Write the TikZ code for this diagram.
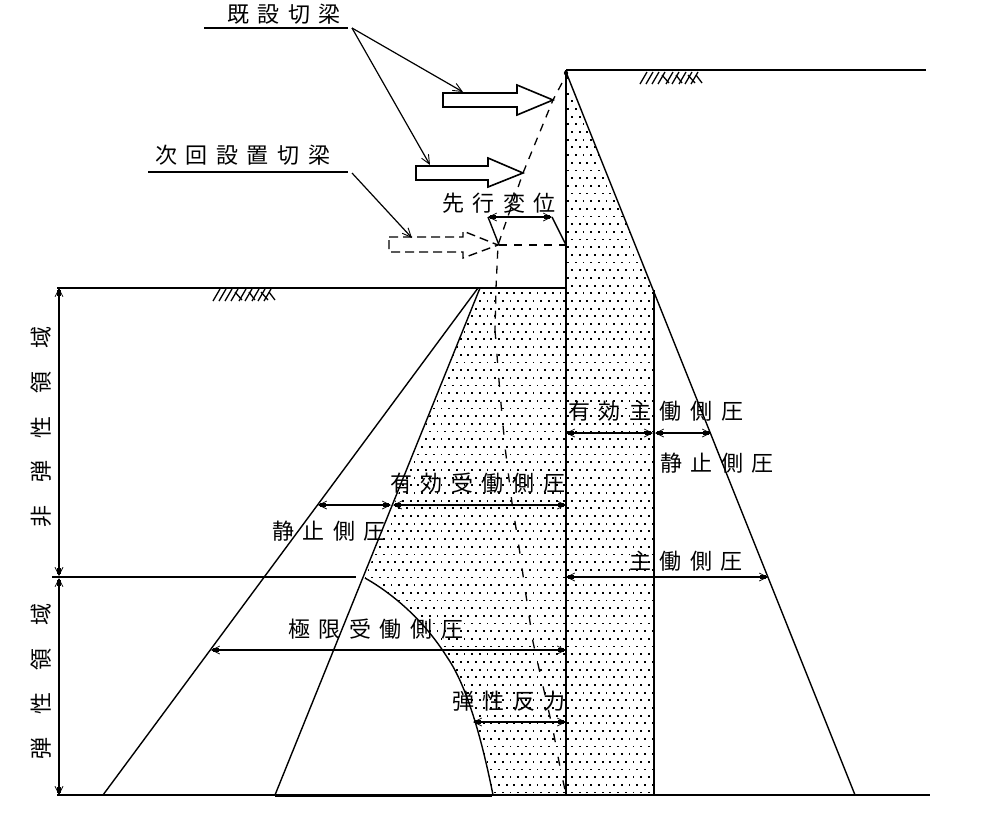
\documentclass[tikz,border=0pt]{standalone}
\usepackage{fontspec}
\usetikzlibrary{arrows.meta,calc}
\newfontfamily\jph[LetterSpace=39]{Noto Sans CJK JP}
\newfontfamily\jpv[LetterSpace=104]{Noto Sans CJK JP}
\tikzset{
  main/.style={line width=1.6pt,black},
  thin line/.style={line width=1.4pt,black},
  dim/.style={line width=1.3pt,
    arrows={Straight Barb[length=8pt,width=8pt,line width=.7pt]-Straight Barb[length=8pt,width=8pt,line width=.7pt]},
    postaction={draw,shorten >=2pt,shorten <=2pt,arrows={Rectangle[length=6pt,width=4.5pt]-Rectangle[length=6pt,width=4.5pt]}}},
  leader/.style={line width=1.2pt,-{Straight Barb[length=9pt,width=8pt,line width=.9pt]}},
  label/.style={anchor=base west,inner sep=0pt,font=\fontsize{22}{22}\jph},
  vlabel/.style={anchor=base west,inner sep=0pt,rotate=90,font=\fontsize{22}{22}\jpv},
  dashline/.style={line width=1.3pt,dash pattern=on 8pt off 7pt},
  sparsedash/.style={line width=1.3pt,dash pattern=on 9pt off 15pt},
}
\begin{document}
\begin{tikzpicture}[x=1pt,y=-1pt]
\useasboundingbox (0,0) rectangle (1000,815);
\fill[white] (0,0) rectangle (1000,815);
% stippled regions
\begin{scope}
\clip (566,72) -- (654,292) -- (654,795) -- (566,795) -- cycle
      (480,288) -- (566,288) -- (566,795) -- (493,795)
      .. controls (485,755) and (470,690) .. (447,657)
      .. controls (425,622) and (395,595) .. (365,578) -- cycle;
\foreach \k in {-28,...,66}{
  \pgfmathsetmacro{\yy}{293.3+\k*7.68}
  \pgfmathsetmacro{\xo}{506.7-7.68*20+(iseven(\k)?0:3.84)}
  \foreach \j in {0,...,40}{
    \fill (\xo+\j*7.68-0.9,\yy-0.9) rectangle ++(1.8,1.8);
  }
}
\end{scope}
% named points
\coordinate (topwall) at (566,70);
\coordinate (topend) at (926,70);
\coordinate (wallbot) at (566,795);
\coordinate (gl) at (57,288);
\coordinate (gr) at (566,288);
\coordinate (botl) at (57,795);
\coordinate (botr) at (930,795);
\coordinate (midl) at (52,577);
\coordinate (midr) at (356,577);
% soil lines
\draw[main] (topwall) -- (topend);
\draw[main] (gl) -- (gr);
\draw[main] (botl) -- (botr);
\draw[main] (midl) -- (midr);
\draw[main] (topwall) -- (wallbot);
\draw[main] (654,290) -- (654,795);
\draw[thin line] (566,72) -- (855,795);
\draw[thin line] (478,288) -- (103,795);
\draw[thin line] (480,288) -- (275,795);
\draw[line width=3pt] (275,795) -- (492,795);
\draw[thin line] (365,578) .. controls (395,595) and (425,622) .. (447,657)
      .. controls (470,690) and (485,755) .. (493,795);
\fill (566,73) circle (2.2pt);
% ground hatching
\foreach \ox/\oy in {640/72,213/289}{
  \begin{scope}[shift={(\ox,\oy)},line width=1.3pt]
    \foreach \a in {0,6,12,18,26,32,39,45,51}{ \draw (\a,12) -- (\a+7,0); }
    \foreach \a/\b in {22/29,36/42,48/55,56/62}{ \draw (\a,3) -- (\b,11); }
  \end{scope}
}
% displacement curve
\draw[dashline] (562,83) -- (553,100) -- (523,173) -- (498,245) -- (496,288) -- (495,330);
\draw[sparsedash] (495,330) -- (498,368) -- (500,393) -- (505,447) -- (512,503) -- (519,547) -- (524,582)
      -- (533,642) -- (540,673) -- (553,730) -- (560,767) -- (565,790);
% strut arrows
\draw[line width=1.6pt,fill=white] (443,93) -- (517,93) -- (517,85) -- (553,100) -- (517,115) -- (517,107) -- (443,107) -- cycle;
\draw[line width=1.6pt,fill=white] (416,166) -- (488,166) -- (488,158) -- (523,173) -- (488,187) -- (488,180) -- (416,180) -- cycle;
\draw[line width=1.4pt,dash pattern=on 9pt off 5pt,fill=white] (389,237) -- (463,237) -- (463,231) -- (498,245) -- (463,258) -- (463,252) -- (389,252) -- cycle;
% leader lines and their labels
\node[label] (kisetsu) at (227,22) {既設切梁};
\node[label] (jikai) at (155,163) {次回設置切梁};
\coordinate (ua) at (204,28); \coordinate (ub) at (348,28); \coordinate (uc) at (352,28);
\coordinate (va) at (148,172); \coordinate (vb) at (348,172); \coordinate (vc) at (352,173);
\coordinate (a1) at (463,92); \coordinate (a2) at (430,165); \coordinate (a3) at (412,238);
\draw[main] (ua) -- (ub);
\draw[main] (va) -- (vb);
\draw[leader] (uc) -- (a1);
\draw[leader] (uc) -- (a2);
\draw[leader] (vc) -- (a3);
% advance displacement
\coordinate (p1) at (488,217); \coordinate (p2) at (552,217);
\coordinate (p3) at (499,245); \coordinate (p4) at (566,245);
\draw[dim] (p1) -- (p2);
\draw[thin line] (p1) -- (p3);
\draw[thin line] (p2) -- (p4);
\draw[dashline] (p3) -- (p4);
\node[label] (senko) at (442,211) {先行変位};
% dimension arrows
\coordinate (w1) at (566,433); \coordinate (c1) at (653,433); \coordinate (c2) at (655,433); \coordinate (s1) at (711,433);
\draw[dim] (w1) -- (c1);
\draw[dim] (c2) -- (s1);
\coordinate (w2) at (566,505); \coordinate (l1) at (318,505); \coordinate (l2) at (391,505); \coordinate (l3) at (393,505);
\draw[dim] (l1) -- (l2);
\draw[dim] (l3) -- (w2);
\coordinate (w3) at (566,577); \coordinate (s3) at (768,577);
\draw[dim] (w3) -- (s3);
\coordinate (l4) at (211,650); \coordinate (w4) at (566,650);
\draw[dim] (l4) -- (w4);
\coordinate (l5) at (473,722); \coordinate (w5) at (566,722);
\draw[dim] (l5) -- (w5);
\coordinate (d1) at (59,288); \coordinate (d2) at (59,576); \coordinate (d3) at (59,578); \coordinate (d4) at (59,795);
\draw[dim] (d1) -- (d2);
\draw[dim] (d3) -- (d4);
% labels
\node[label] (n1) at (568,419) {有効主働側圧};
\node[label] (n2) at (660,471) {静止側圧};
\node[label] (n3) at (390,491) {有効受働側圧};
\node[label] (n4) at (272,539) {静止側圧};
\node[label] (n5) at (629,569) {主働側圧};
\node[label] (n6) at (288,637) {極限受働側圧};
\node[label] (n7) at (452,709) {弾性反力};
\node[vlabel] (n8) at (49,528) {非弾性領域};
\node[vlabel] (n9) at (49,760) {弾性領域};
\end{tikzpicture}
\end{document}
